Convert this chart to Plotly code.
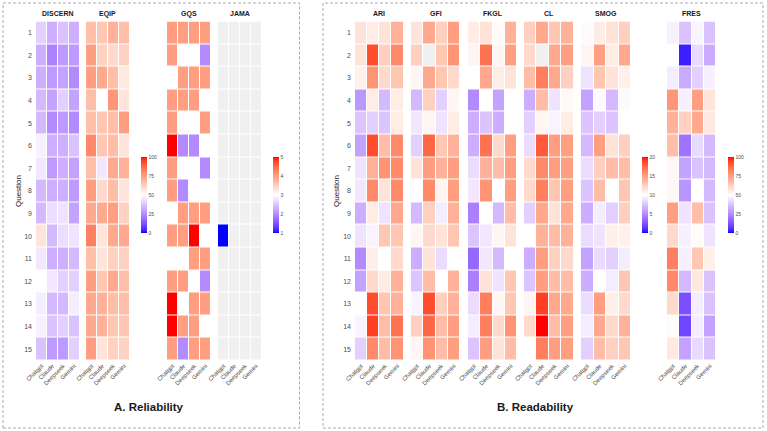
import numpy as np
import plotly.graph_objects as go

models = ["Chatgpt", "Claude", "Deepseek", "Gemini"]
questions = list(range(1, 16))

# ---------------- Reliability ----------------
discern = [
    [40, 33, 37, 33], [33, 23, 28, 28], [33, 28, 30, 25], [35, 30, 40, 30],
    [35, 25, 28, 25], [47, 33, 33, 37], [45, 28, 33, 30], [35, 33, 33, 28],
    [35, 43, 44, 30], [57, 35, 43, 44], [45, 33, 33, 35], [50, 45, 40, 40],
    [46, 35, 35, 46], [47, 37, 40, 37], [37, 28, 28, 40],
]
eqip = [
    [67, 65, 70, 67], [75, 62, 60, 62], [75, 72, 67, 56], [67, 50, 77, 57],
    [67, 65, 67, 75], [80, 65, 67, 57], [67, 45, 72, 70], [75, 60, 67, 57],
    [72, 72, 75, 62], [82, 57, 72, 72], [67, 57, 62, 62], [75, 65, 72, 67],
    [72, 70, 67, 67], [72, 70, 65, 65], [75, 57, 62, 62],
]
gqs = [
    [4, 4, 4, 4], [4, 3, 3, 2], [3, 4, 4, 4], [4, 4, 4, 3], [4, 3, 3, 4],
    [5, 2, 2, 3], [4, 3, 3, 2], [4, 2, 3, 3], [3, 4, 4, 4], [4, 4, 5, 3],
    [3, 3, 4, 4], [4, 4, 3, 2], [5, 3, 4, 4], [5, 4, 4, 3], [4, 2, 4, 4],
]
jama = [
    [0, 0, 0, 0], [0, 0, 0, 0], [0, 0, 0, 0], [0, 0, 0, 0], [0, 0, 0, 0],
    [0, 0, 0, 0], [0, 0, 0, 0], [0, 0, 0, 0], [0, 0, 0, 0], [1, 0, 0, 0],
    [0, 0, 0, 0], [0, 0, 0, 0], [0, 0, 0, 0], [0, 0, 0, 0], [0, 0, 0, 0],
]

# ---------------- Readability ----------------
ari = [
    [11.5, 11, 11.5, 14], [11.5, 18.5, 12.5, 16], [10.8, 15.5, 12, 13], [5.5, 11, 7, 11],
    [7.5, 8, 7.5, 11], [6, 18.5, 13.5, 16], [8.8, 14, 15.5, 16], [9, 16, 11.5, 16],
    [6.5, 11, 8.8, 14.5], [8.8, 9.5, 13, 13], [5, 10.8, 10, 12], [6, 12, 11, 14],
    [10, 18.5, 13, 14], [9.5, 19, 13.5, 17], [8, 16, 13.5, 15.5],
]
gfi = [
    [11.5, 14.5, 12.5, 15], [12.5, 21, 13, 15.5], [10.5, 14.5, 13, 12], [7, 12.5, 8, 10.5],
    [9, 10.5, 8.8, 11], [8, 17.5, 13, 14], [11.5, 15, 14, 15], [10, 16, 10.5, 15],
    [7, 12.5, 9.2, 14], [10.5, 12, 11.5, 13], [6.5, 11.5, 8.5, 10], [7.5, 13.5, 10, 14],
    [9.5, 18.5, 12.5, 14], [12.5, 17.5, 13.5, 15], [10.5, 15.5, 13.5, 15],
]
fkgl = [
    [11, 11.5, 10.2, 14], [10.5, 17, 10.5, 15], [10, 14.5, 11, 11.5], [5, 10, 6, 10],
    [6.5, 7.5, 6.5, 10], [6.5, 17, 12, 15], [8.5, 14, 13.5, 15], [9, 15.5, 10, 15],
    [4.5, 10, 7, 13.5], [7.5, 9, 10.5, 11.5], [3.5, 9, 7, 10], [4.5, 11.5, 8.8, 13],
    [8.5, 16.5, 10.5, 13], [9.2, 16.5, 12, 15.5], [7.5, 15, 11.5, 13.5],
]
cl = [
    [12.5, 14.5, 13, 14], [12, 22, 14.5, 15], [13.5, 16.5, 14.5, 12.5], [6.5, 13.5, 8.8, 10.3],
    [8, 10.5, 9.5, 11], [8.5, 18, 15, 15], [12, 16, 15, 15], [12, 16.5, 13, 15],
    [8, 14.5, 11.5, 14.5], [10, 14, 13.5, 14], [6.5, 15, 12.5, 12], [7.5, 15, 13.5, 13.5],
    [10.5, 19, 14.5, 14.5], [12, 20, 13.5, 15], [10, 16.5, 15, 15],
]
smog = [
    [10.2, 11, 11.5, 12.5], [10.5, 15, 11, 14.5], [8.8, 13, 11.5, 10.8], [6, 9.8, 7, 9.8],
    [7.5, 8, 7.5, 10], [7, 15, 11.5, 12.5], [8.5, 12.5, 13.5, 13.5], [7.5, 13.5, 10, 13],
    [6.5, 9.2, 8, 12.5], [8.5, 8.8, 10.8, 10.8], [6, 8.5, 8, 9.2], [6.5, 10, 9.2, 13],
    [8.5, 15, 10.8, 12], [9.2, 14.5, 12, 14], [8, 13.5, 12.5, 13],
]
fres = [
    [47, 37, 48, 37], [50, 3, 42, 32], [46, 32, 40, 47], [77, 47, 75, 57],
    [70, 62, 72, 56], [67, 20, 42, 35], [52, 30, 37, 35], [52, 27, 50, 35],
    [75, 44, 67, 37], [60, 47, 51, 44], [82, 47, 65, 54], [80, 35, 56, 37],
    [60, 12, 46, 37], [51, 10, 46, 30], [56, 30, 42, 37],
]

# ---------------- colour scale (Lab interpolation blue-white-red) ----------------
def _lin(c):
    c = c / 255.0
    return np.where(c <= 0.04045, c / 12.92, ((c + 0.055) / 1.055) ** 2.4)

def _delin(c):
    c = np.where(c <= 0.0031308, 12.92 * c, 1.055 * np.clip(c, 0, None) ** (1 / 2.4) - 0.055)
    return np.clip(np.round(c * 255), 0, 255).astype(int)

M = np.array([[0.4124, 0.3576, 0.1805], [0.2126, 0.7152, 0.0722], [0.0193, 0.1192, 0.9505]])
WP = np.array([0.95047, 1.0, 1.08883])

def rgb2lab(rgb):
    xyz = M @ _lin(np.array(rgb, float)) / WP
    f = np.where(xyz > (6 / 29) ** 3, np.cbrt(xyz), xyz / (3 * (6 / 29) ** 2) + 4 / 29)
    return np.array([116 * f[1] - 16, 500 * (f[0] - f[1]), 200 * (f[1] - f[2])])

def lab2rgb(lab):
    L, a, b = lab
    fy_ = (L + 16) / 116
    fx_ = fy_ + a / 500
    fz_ = fy_ - b / 200
    f = np.array([fx_, fy_, fz_])
    xyz = np.where(f > 6 / 29, f ** 3, 3 * (6 / 29) ** 2 * (f - 4 / 29)) * WP
    return _delin(np.linalg.inv(M) @ xyz)

LOW, MID, HIGH = rgb2lab([0, 0, 255]), rgb2lab([255, 255, 255]), rgb2lab([255, 0, 0])
cscale = []
for s in np.linspace(0, 1, 41):
    if s <= 0.5:
        f = s / 0.5
        lab = LOW + (MID - LOW) * f
    else:
        f = (s - 0.5) / 0.5
        lab = MID + (HIGH - MID) * f
    r, g, b = lab2rgb(lab)
    cscale.append([float(s), f"rgb({r},{g},{b})"])

NA_COLOR = "#F0F0F0"

W, H = 767, 431
def fx(p):
    return p / W
def fy(p):
    return 1 - p / H

YTOP, YBOT = 21.5, 360.5

panels = [
    # name, data, x0, x1, zmin, zmax, colorbar(x px) or None, showY
    ("DISCERN", discern, 36, 79.5, 0, 100, None, True),
    ("EQIP", eqip, 86, 129.5, 0, 100, 141, False),
    ("GQS", gqs, 167, 211, 1, 5, None, False),
    ("JAMA", jama, 218, 261.5, 1, 5, 273, False),
    ("ARI", ari, 355, 403.5, 0, 20, None, True),
    ("GFI", gfi, 411, 460, 0, 20, None, False),
    ("FKGL", fkgl, 468, 517, 0, 20, None, False),
    ("CL", cl, 524, 573.5, 0, 20, None, False),
    ("SMOG", smog, 581, 631, 0, 20, 642, False),
    ("FRES", fres, 667, 716, 0, 100, 728, False),
]

fig = go.Figure()
annotations = []
layout_axes = {}
TICKCOL = "#4D4D4D"
FONT = "Liberation Sans, Arial, sans-serif"

for i, (name, data, x0, x1, zmin, zmax, cbx, showy) in enumerate(panels, start=1):
    xa = "x" if i == 1 else f"x{i}"
    ya = "y" if i == 1 else f"y{i}"
    z = np.array(data, float)
    out = (z < zmin) | (z > zmax) | np.isnan(z)
    zmain = np.where(out, np.nan, z)
    zna = np.where(out, 1.0, np.nan)
    fig.add_trace(go.Heatmap(
        z=zna.tolist(), x=models, y=questions, xaxis=xa, yaxis=ya,
        colorscale=[[0, NA_COLOR], [1, NA_COLOR]], showscale=False,
        xgap=1, ygap=1, hoverinfo="skip",
    ))
    hm = dict(
        z=zmain.tolist(), x=models, y=questions, xaxis=xa, yaxis=ya,
        colorscale=cscale, zmin=zmin, zmax=zmax, xgap=1, ygap=1,
        showscale=cbx is not None,
    )
    if cbx is not None:
        step = (zmax - zmin) / 4
        tv = [zmin + step * k for k in range(5)]
        hm["colorbar"] = dict(
            x=fx(cbx), xanchor="left", xpad=0, ypad=0,
            y=fy((157 + 233) / 2), yanchor="middle",
            len=76, lenmode="pixels", thickness=6, thicknessmode="pixels",
            outlinewidth=0, tickvals=tv, ticktext=[f"{v:g}" for v in tv],
            ticks="", tickfont=dict(size=5, color=TICKCOL, family=FONT),
        )
    fig.add_trace(go.Heatmap(**hm))

    xkey = "xaxis" if i == 1 else f"xaxis{i}"
    ykey = "yaxis" if i == 1 else f"yaxis{i}"
    layout_axes[xkey] = dict(
        domain=[fx(x0), fx(x1)], anchor=ya, type="category", automargin=False,
        range=[-0.5, 3.5], tickangle=-45, ticks="", showgrid=False, zeroline=False,
        showline=False, tickfont=dict(size=6, color=TICKCOL, family=FONT),
        fixedrange=True,
    )
    layout_axes[ykey] = dict(
        domain=[fy(YBOT), fy(YTOP)], anchor=xa, range=[15.5, 0.5], automargin=False,
        tickvals=questions, ticktext=[str(q) for q in questions],
        showticklabels=showy, ticks="", showgrid=False, zeroline=False,
        showline=False, tickfont=dict(size=7, color=TICKCOL, family=FONT),
        ticklabelstandoff=3, fixedrange=True,
    )
    annotations.append(dict(
        text=name, x=fx((x0 + x1) / 2), y=fy(14), xref="paper", yref="paper",
        showarrow=False, xanchor="center", yanchor="middle",
        font=dict(size=7, color="#1A1A1A", family=FONT, weight="bold"),
    ))

for xq in (18, 336):
    annotations.append(dict(
        text="Question", x=fx(xq), y=fy((YTOP + YBOT) / 2), xref="paper", yref="paper",
        showarrow=False, textangle=-90, xanchor="center", yanchor="middle",
        font=dict(size=8, color="#1A1A1A", family=FONT),
    ))

for txt, xc in (("A. Reliability", 148.5), ("B. Readability", 535)):
    annotations.append(dict(
        text=txt, x=fx(xc), y=fy(407), xref="paper", yref="paper",
        showarrow=False, xanchor="center", yanchor="middle",
        font=dict(size=11.5, color="#1A1A1A", family=FONT, weight="bold"),
    ))

shapes = []
for (a, b) in ((3, 299.5), (323, 763)):
    shapes.append(dict(
        type="rect", xref="paper", yref="paper",
        x0=fx(a), x1=fx(b), y0=fy(428), y1=fy(3),
        line=dict(color="#AAAAAA", width=1, dash="3px,2px"), fillcolor="rgba(0,0,0,0)",
    ))

fig.update_layout(
    width=W, height=H, margin=dict(l=0, r=0, t=0, b=0, autoexpand=False),
    paper_bgcolor="white", plot_bgcolor="white",
    annotations=annotations, shapes=shapes, showlegend=False,
    font=dict(family=FONT),
    **layout_axes,
)

fig.write_html("out.html")
